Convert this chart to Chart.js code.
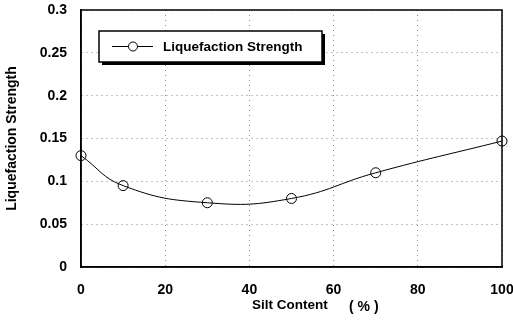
<!DOCTYPE html>
<html>
<head>
<meta charset="utf-8">
<script src="https://cdn.jsdelivr.net/npm/chart.js@4.4.1/dist/chart.umd.min.js"></script>
<style>
  html, body { margin: 0; padding: 0; background: #fff; }
  #wrap { width: 513px; height: 324px; }
</style>
</head>
<body>
<div id="wrap"><canvas id="grafico"></canvas></div>
<script>
// contenido de limo (%) y resistencia a la licuación
const contenidoLimo = [0, 10, 30, 50, 70, 100];
const resistencia = [0.130, 0.095, 0.075, 0.080, 0.110, 0.147];
const ticksX = [0, 20, 40, 60, 80, 100];
const ticksY = [0, 0.05, 0.1, 0.15, 0.2, 0.25, 0.3];
const nombreSerie = 'Liquefaction Strength';
const tituloX = 'Silt Content';
const unidadX = '( % )';

const fuente = 'Liberation Sans, Arial, sans-serif';

// marco, leyenda con sombra y título del eje x
const extras = {
  id: 'extras',
  afterDraw(chart) {
    const { ctx, chartArea: a } = chart;
    ctx.save();
    ctx.strokeStyle = '#000';
    ctx.lineWidth = 1.5;
    ctx.strokeRect(a.left, a.top, a.right - a.left, a.bottom - a.top);

    // leyenda
    const bx = 99, by = 31, bw = 223, bh = 31;
    ctx.fillStyle = '#000';
    ctx.fillRect(bx + 3, by + 3, bw, bh);
    ctx.fillStyle = '#fff';
    ctx.fillRect(bx, by, bw, bh);
    ctx.lineWidth = 1.5;
    ctx.strokeRect(bx, by, bw, bh);
    const ly = by + bh / 2;
    ctx.lineWidth = 1;
    ctx.beginPath();
    ctx.moveTo(bx + 13, ly);
    ctx.lineTo(bx + 54, ly);
    ctx.stroke();
    ctx.beginPath();
    ctx.arc(bx + 34, ly, 4.5, 0, Math.PI * 2);
    ctx.fillStyle = '#fff';
    ctx.fill();
    ctx.stroke();
    ctx.fillStyle = '#000';
    ctx.font = 'bold 13.5px ' + fuente;
    ctx.textBaseline = 'middle';
    ctx.textAlign = 'left';
    ctx.fillText(nombreSerie, bx + 64, ly + 1);

    // título eje x
    ctx.font = 'bold 13.5px ' + fuente;
    ctx.fillText(tituloX, 252, 305);
    ctx.font = 'bold 14px ' + fuente;
    ctx.fillText(unidadX, 349, 307);
    ctx.restore();
  }
};

const rejilla = {
  color: '#888',
  lineWidth: 1,
  tickLength: 0
};

new Chart(document.getElementById('grafico'), {
  type: 'line',
  data: {
    datasets: [{
      label: nombreSerie,
      data: contenidoLimo.map((x, i) => ({ x: x, y: resistencia[i] })),
      borderColor: '#000',
      borderWidth: 1,
      tension: 0.45,
      pointRadius: 5,
      pointBackgroundColor: 'rgba(255,255,255,0)',
      pointBorderColor: '#000',
      pointBorderWidth: 1,
      clip: false
    }]
  },
  options: {
    responsive: true,
    maintainAspectRatio: false,
    animation: false,
    layout: { padding: { top: 10, right: 11, bottom: 0, left: 0 } },
    plugins: {
      legend: { display: false },
      tooltip: { enabled: false }
    },
    scales: {
      x: {
        type: 'linear',
        min: 0, max: 100,
        afterBuildTicks: s => { s.ticks = ticksX.map(v => ({ value: v })); },
        afterFit: s => {
          s.height = 57;
          s.paddingLeft = 0;
          s.paddingRight = 0;
        },
        ticks: {
          color: '#000',
          font: { family: fuente, size: 14, weight: 'bold' },
          padding: 15,
          maxRotation: 0
        },
        grid: rejilla,
        border: { color: '#000', width: 1.5, dash: [1, 4] }
      },
      y: {
        min: 0, max: 0.3,
        afterBuildTicks: s => { s.ticks = ticksY.map(v => ({ value: v })); },
        afterFit: s => {
          s.width = 81;
          s.paddingTop = 0;
          s.paddingBottom = 0;
        },
        ticks: {
          color: '#000',
          font: { family: fuente, size: 14, weight: 'bold' },
          padding: 14,
          callback: v => String(+v.toFixed(2))
        },
        title: {
          display: true,
          text: nombreSerie,
          color: '#000',
          font: { family: fuente, size: 14, weight: 'bold' },
          padding: { top: 4, bottom: 0 }
        },
        grid: rejilla,
        border: { color: '#000', width: 1.5, dash: [1, 4] }
      }
    }
  },
  plugins: [extras]
});
</script>
</body>
</html>
